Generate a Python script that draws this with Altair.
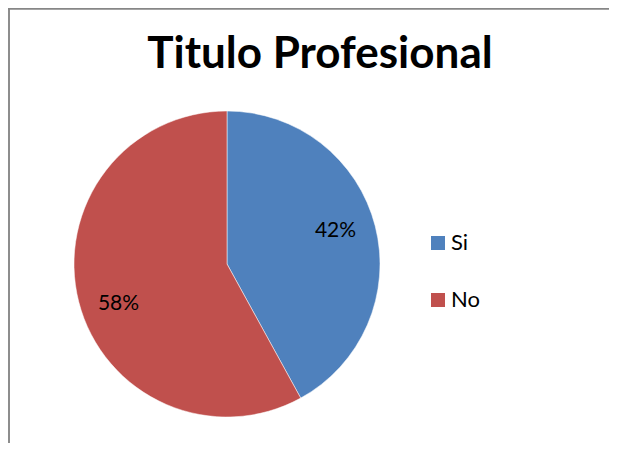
import altair as alt
import pandas as pd

categories = ["Si", "No"]
values = [42, 58]
labels = ["42%", "58%"]
colors = ["#4F81BD", "#C0504D"]

df = pd.DataFrame({"cat": categories, "val": values, "label": labels, "order": [0, 1]})

W, H = 601, 435
cx, cy, R = 219, 256, 153

base = alt.Chart(df).encode(
    theta=alt.Theta("val:Q", stack=True),
    order=alt.Order("order:Q"),
)

pie = base.mark_arc(radius=R, stroke="white", strokeWidth=0.5).encode(
    x=alt.value(cx), y=alt.value(cy),
    color=alt.Color(
        "cat:N",
        scale=alt.Scale(domain=categories, range=colors),
        sort=categories,
        legend=alt.Legend(
            title=None, orient="none", legendX=419, legendY=224,
            symbolType="square", symbolSize=196, symbolStrokeWidth=0,
            labelFontSize=22, labelFont="Lato", labelColor="black",
            rowPadding=35, labelOffset=2,
        ),
    ),
)

label_base = alt.Chart(df).transform_window(
    cum="sum(val)", sort=[alt.SortField("order")]
).transform_joinaggregate(
    total="sum(val)"
).transform_calculate(
    mid="(datum.cum - datum.val / 2) / datum.total"
)

def label_layer(cat, dy):
    return label_base.transform_filter(alt.datum.cat == cat).mark_text(
        radius=112, fontSize=21, font="Lato", color="black", dy=dy
    ).encode(
        theta=alt.Theta("mid:Q", scale=alt.Scale(domain=[0, 1], range=[0, 6.283185307179586]), stack=None),
        x=alt.value(cx), y=alt.value(cy),
        text="label:N",
    )

text_si = label_layer("Si", -5)
text_no = label_layer("No", 12)

frame_left = alt.Chart(df).mark_rule(color="#868686", strokeWidth=1.5).encode(
    x=alt.value(1), y=alt.value(0), y2=alt.value(H)
)
frame_top = alt.Chart(df).mark_rule(color="#868686", strokeWidth=1.5).encode(
    x=alt.value(0), x2=alt.value(W), y=alt.value(0.75)
)

chart = (frame_left + frame_top + pie + text_si + text_no).properties(
    width=W, height=H,
    title=alt.TitleParams("Titulo Profesional", fontSize=44, font="Lato", fontWeight="bold",
                          color="black", anchor="start", dx=140, dy=105, offset=0,
                          baseline="alphabetic"),
    padding=0,
    autosize=alt.AutoSizeParams(type="none"),
).resolve_scale(theta="independent").configure_view(stroke=None)

chart.save("out.html", embed_options={"renderer": "svg", "actions": False})
